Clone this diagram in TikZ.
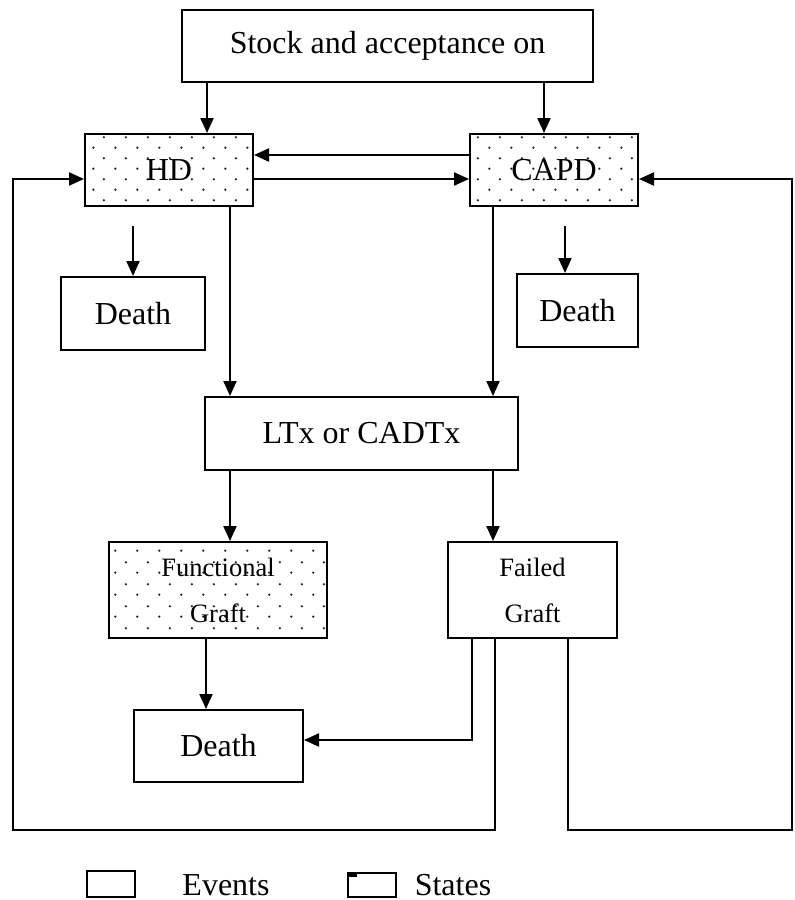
\documentclass[tikz,border=0pt]{standalone}
\usepackage{fontspec}
\setmainfont{Liberation Serif}
\usetikzlibrary{arrows.meta, calc, patterns.meta}

\tikzdeclarepattern{
  name=statedots,
  type=uncolored,
  bounding box={(0pt,0pt) and (11pt,10.7pt)},
  tile size={(11pt,10.7pt)},
  code={
    \fill (2.75pt,2.7pt) circle (0.65pt);
    \fill (8.25pt,8.05pt) circle (0.65pt);
  }
}

\tikzset{
  eventbox/.style={rectangle, draw, line width=1pt, inner sep=0pt, align=center, font=\fontsize{16}{19}\selectfont},
  statebox/.style={eventbox, pattern=statedots, pattern color=black!85},
  graftfont/.style={font=\fontsize{13.25}{23}\selectfont},
  arr/.style={-{Triangle[length=7.5pt,width=6.5pt]}, line width=1.1pt},
  ln/.style={line width=1pt}
}

\begin{document}
\begin{tikzpicture}[x=0.5pt, y=-0.5pt]
\useasboundingbox (0,0) rectangle (795,900);

\node[eventbox, minimum width=205.5pt, minimum height=36pt] (stock) at (387.5,46) {Stock and acceptance on};
\node[statebox, minimum width=84pt, minimum height=36pt] (hd) at (169,170) {HD};
\node[statebox, minimum width=84pt, minimum height=36pt] (capd) at (554,170) {CAPD};
\node[eventbox, minimum width=72pt, minimum height=36.5pt] (deathhd) at (133,313.5) {Death};
\node[eventbox, minimum width=60.5pt, minimum height=36.5pt] (deathcapd) at (577.5,310.5) {Death};
\node[eventbox, minimum width=156.5pt, minimum height=36.5pt] (ltx) at (361.5,433.5) {LTx or CADTx};
\node[statebox, graftfont, minimum width=109pt, minimum height=48pt] (func) at (218,590) {Functional\\Graft};
\node[eventbox, graftfont, minimum width=84.5pt, minimum height=48pt] (failed) at (532.5,590) {Failed\\Graft};
\node[eventbox, minimum width=84.5pt, minimum height=36pt] (deathft) at (218.5,746) {Death};

% stock to the two dialysis states
\draw[arr] ($(stock.south)+(-180.5,0)$) -- ($(hd.north)+(38,0)$);
\draw[arr] ($(stock.south)+(156.5,0)$) -- ($(capd.north)+(-10,0)$);
\draw[arr] ($(capd.west)+(0,-15)$) -- ($(hd.east)+(0,-15)$);
\draw[arr] ($(hd.east)+(0,9)$) -- ($(capd.west)+(0,9)$);

% death from dialysis
\coordinate (hdout) at (133,226);
\coordinate (capdout) at (565,226);
\draw[arr] (hdout) -- (deathhd.north);
\draw[arr] (capdout) -- (capdout |- deathcapd.north);

% transplant
\draw[arr] ($(hd.south)+(61,0)$) -- ($(ltx.north)+(-131.5,0)$);
\draw[arr] ($(capd.south)+(-61,0)$) -- ($(ltx.north)+(131.5,0)$);
\draw[arr] ($(ltx.south)+(-131.5,0)$) -- ($(func.north)+(12,0)$);
\draw[arr] ($(ltx.south)+(131.5,0)$) -- ($(failed.north)+(-39.5,0)$);
\draw[arr] ($(func.south)+(-12,0)$) -- ($(deathft.north)+(-12.5,0)$);
\draw[arr] ($(failed.south)+(-60.5,0)$) |- ($(deathft.east)+(0,-6)$);

% back to dialysis
\coordinate (loopl) at (13,830);
\coordinate (loopr) at (792,830);
\draw[arr] ($(failed.south)+(-37.5,0)$) |- (loopl) |- ($(hd.west)+(0,9)$);
\draw[arr] ($(failed.south)+(35.5,0)$) |- (loopr) |- ($(capd.east)+(0,9)$);

% legend
\node[eventbox, minimum width=24pt, minimum height=13pt] (legevent) at (111,884) {};
\node[font=\fontsize{16}{19}\selectfont] (legeventtxt) at (226,885) {Events};
\node[eventbox, minimum width=24pt, minimum height=12pt] (legstate) at (372,885) {};
\fill (legstate.north west) rectangle ++(10,5);
\node[font=\fontsize{16}{19}\selectfont] (legstatetxt) at (453,885) {States};
\end{tikzpicture}
\end{document}
